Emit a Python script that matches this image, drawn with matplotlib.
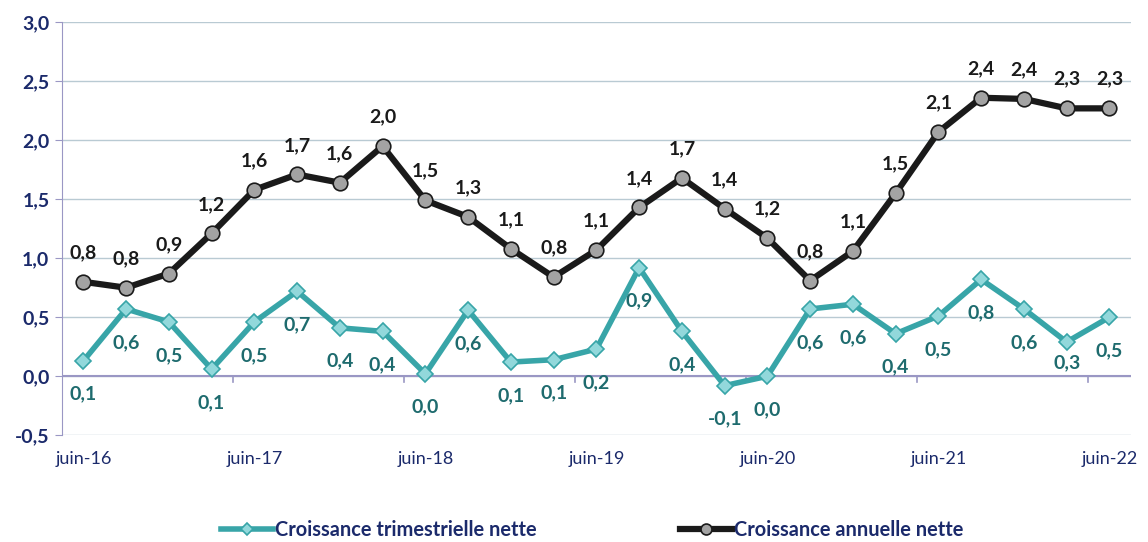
import matplotlib
matplotlib.use('Agg')
import matplotlib.pyplot as plt
import matplotlib.ticker as ticker

# données (croissance en %)
trimestres = ['juin-16', 'sept-16', 'déc-16', 'mars-17', 'juin-17', 'sept-17', 'déc-17', 'mars-18',
              'juin-18', 'sept-18', 'déc-18', 'mars-19', 'juin-19', 'sept-19', 'déc-19', 'mars-20',
              'juin-20', 'sept-20', 'déc-20', 'mars-21', 'juin-21', 'sept-21', 'déc-21', 'mars-22', 'juin-22']
croiss_trim = [0.13, 0.57, 0.46, 0.06, 0.46, 0.72, 0.41, 0.38, 0.02, 0.56, 0.12, 0.14, 0.23,
               0.92, 0.38, -0.08, 0.00, 0.57, 0.61, 0.36, 0.51, 0.82, 0.57, 0.29, 0.50]
croiss_ann = [0.80, 0.75, 0.87, 1.21, 1.58, 1.71, 1.64, 1.95, 1.49, 1.35, 1.08, 0.84, 1.07,
              1.43, 1.68, 1.42, 1.17, 0.81, 1.06, 1.55, 2.07, 2.36, 2.35, 2.27, 2.27]
lab_trim = [0.1, 0.6, 0.5, 0.1, 0.5, 0.7, 0.4, 0.4, 0.0, 0.6, 0.1, 0.1, 0.2,
            0.9, 0.4, -0.1, 0.0, 0.6, 0.6, 0.4, 0.5, 0.8, 0.6, 0.3, 0.5]
lab_ann = [0.8, 0.8, 0.9, 1.2, 1.6, 1.7, 1.6, 2.0, 1.5, 1.3, 1.1, 0.8, 1.1,
           1.4, 1.7, 1.4, 1.2, 0.8, 1.1, 1.5, 2.1, 2.4, 2.4, 2.3, 2.3]

navy = '#1B2A6B'
teal = '#38A5A8'
teal_txt = '#1E6B6E'
grid_c = '#B9CAD3'
axe_c = '#9A97C4'

plt.rcParams['font.family'] = ['Lato', 'DejaVu Sans']

def fmt(v):
    return ('%.1f' % v).replace('.', ',')

fig = plt.figure(figsize=(11.48, 5.42), dpi=100)
ax = fig.add_axes([0.054, 0.197, 0.931, 0.762])

x = list(range(len(trimestres)))
ax.plot(x, croiss_trim, color=teal, linewidth=4, marker='D', markersize=8,
        markerfacecolor='#92D8DB', markeredgecolor=teal, markeredgewidth=1.2,
        label='Croissance trimestrielle nette', zorder=3)
ax.plot(x, croiss_ann, color='#1A1A1A', linewidth=4.5, marker='o', markersize=10.5,
        markerfacecolor='#A3A3A3', markeredgecolor='#1A1A1A', markeredgewidth=1.2,
        label='Croissance annuelle nette', zorder=4)

# étiquettes de données
for i in x:
    dy = -15 if i == 23 else -24
    ax.annotate(fmt(lab_trim[i]), (i, croiss_trim[i]), xytext=(0, dy), textcoords='offset points',
                ha='center', va='center', fontsize=14, fontweight='bold', color=teal_txt)
    ax.annotate(fmt(lab_ann[i]), (i, croiss_ann[i]), xytext=(0, 21), textcoords='offset points',
                ha='center', va='center', fontsize=14, fontweight='bold', color='#1A1A1A')

ax.set_xlim(-0.5, 24.5)
ax.set_ylim(-0.5, 3.0)
ax.yaxis.set_major_locator(ticker.MultipleLocator(0.5))
ax.yaxis.set_major_formatter(ticker.FuncFormatter(lambda v, p: fmt(v)))
ax.grid(axis='y', color=grid_c, linewidth=1)
ax.set_axisbelow(True)

for s in ['top', 'right', 'bottom']:
    ax.spines[s].set_visible(False)
ax.spines['left'].set_color(axe_c)
ax.axhline(0, color=axe_c, linewidth=1.5, zorder=2)

# graduations entre catégories, sur l'axe zéro
for t in range(3, 24, 4):
    ax.plot([t + 0.5, t + 0.5], [0, -0.05], color=axe_c, linewidth=1.2, zorder=2, clip_on=False)

ax.set_xticks(x[::4])
ax.set_xticklabels(trimestres[::4], fontsize=13, color=navy)
ax.tick_params(axis='x', length=0, pad=11)
ax.tick_params(axis='y', colors=axe_c, length=5, labelcolor=navy, labelsize=14, pad=4)
for lab in ax.get_yticklabels():
    lab.set_fontweight('bold')

leg = fig.legend(loc='center', bbox_to_anchor=(0.516, 0.022), ncol=2, frameon=False,
                 fontsize=14.4, columnspacing=7.2, handlelength=2.6, handletextpad=0.1,
                 markerscale=0.75)
for t in leg.get_texts():
    t.set_color(navy)
    t.set_fontweight('bold')

plt.savefig('out.png', dpi=100)
